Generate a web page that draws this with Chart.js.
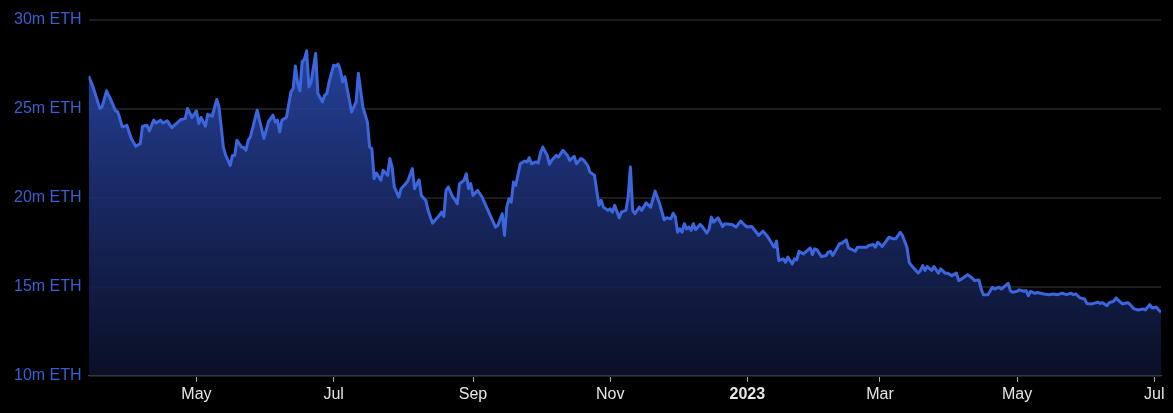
<!DOCTYPE html>
<html lang="en">
<head>
<meta charset="UTF-8">
<title>ETH supply</title>
<script src="https://cdn.jsdelivr.net/npm/chart.js"></script>
<style>
  html, body { margin: 0; padding: 0; background: #000; }
  #wrap { width: 1173px; height: 413px; }
</style>
</head>
<body>
<div id="wrap"><canvas id="supplyChart"></canvas></div>
<script>
// day 0 = 2022-03-14
const START_DATE = Date.UTC(2022, 2, 14);

// days since START_DATE
const days = [0,2,5,6,8,10,12,13,15,17,19,21,23,24,26,27,29,30,32,33,35,37,39,41,43,44,46,48,49,50,52,53,55,57,58,60,61,63,64,65,66,68,69,70,71,72,75,76,78,80,
  82,83,84,85,86,88,90,91,92,93,94,95,96,97,98,99,101,102,104,105,106,107,109,110,111,112,113,114,116,117,119,120,122,124,125,126,127,128,130,131,133,134,135,136,138,139,141,142,144,145,
  147,148,150,151,153,154,156,157,158,159,160,162,163,164,165,166,167,168,169,170,171,173,175,176,178,179,181,182,184,185,186,187,188,189,190,192,194,195,196,197,199,200,201,202,204,205,206,208,209,210,
  211,213,214,216,217,219,220,222,223,225,226,227,228,229,231,232,233,234,236,237,239,240,241,242,243,245,246,248,250,252,254,256,257,259,260,261,262,263,264,265,266,267,268,269,270,272,273,275,276,277,
  278,280,282,283,286,288,290,292,293,295,297,298,300,302,304,305,306,307,309,310,311,313,314,315,316,318,321,322,323,324,326,328,329,330,331,334,335,337,338,341,342,344,346,347,349,350,351,353,355,356,
  358,359,361,362,364,365,366,368,369,370,371,372,373,375,376,378,379,381,382,384,386,387,389,391,393,394,396,397,398,400,402,403,405,406,407,409,410,411,413,414,416,417,418,419,421,422,425,427,429,431,
  433,435,437,438,439,441,443,444,446,447,449,450,451,453,454,456,457,459,460,462,463,465,467,469,470,472,473,475,476,477];

// ETH supply, millions
const supplyM = [26.85,26.24,25.03,25.12,26.02,25.49,24.89,24.83,23.99,24.08,23.34,22.90,23.05,24.03,24.08,23.76,24.37,24.21,24.37,24.21,24.33,23.95,24.18,24.40,24.46,25.03,24.52,24.89,24.18,24.52,24.03,24.70,24.59,25.53,25.12,22.83,22.39,21.83,22.39,22.39,23.24,22.86,22.83,22.68,23.24,23.43,24.93,24.37,23.34,24.27,
  24.65,24.27,24.37,23.71,24.37,24.52,25.96,26.15,27.41,26.43,26.02,27.65,27.79,28.27,26.24,26.52,28.12,25.87,25.40,25.77,25.87,26.52,27.46,27.41,27.52,27.18,26.52,26.81,25.49,24.83,25.40,27.00,25.12,24.27,22.86,22.77,21.08,21.40,20.99,21.55,21.27,22.21,21.74,20.61,20.05,20.52,20.80,20.95,21.65,20.52,
  21.02,20.14,19.86,19.30,18.58,18.73,19.01,19.20,18.96,20.42,20.61,20.05,19.90,19.67,20.80,20.89,20.99,21.36,20.52,20.80,20.14,20.42,20.05,19.76,19.20,18.92,18.36,18.45,19.11,17.89,19.48,19.95,19.76,20.89,20.70,21.92,22.07,22.02,22.26,21.92,22.02,21.96,22.52,22.86,22.39,21.89,22.11,22.39,22.30,22.49,
  22.68,22.39,22.11,22.34,21.92,22.21,22.15,21.83,21.45,21.27,20.42,19.58,19.86,19.48,19.30,19.39,19.20,19.58,18.88,19.20,19.30,20.05,21.74,19.30,19.11,19.48,19.30,19.72,19.48,20.38,19.67,18.77,18.88,18.83,19.14,18.92,18.07,18.26,18.07,18.55,18.26,18.36,18.17,18.55,18.21,18.51,18.39,18.02,18.26,18.92,
  18.64,18.88,18.39,18.55,18.51,18.36,18.70,18.45,18.36,18.39,18.07,17.89,18.13,17.83,17.42,17.23,17.57,16.48,16.57,16.38,16.67,16.29,16.57,16.52,17.00,16.85,17.19,16.82,17.14,17.08,16.70,16.76,16.95,17.00,16.76,17.42,17.45,17.64,17.19,17.00,17.23,17.23,17.23,17.32,17.38,17.23,17.51,17.27,17.61,17.79,
  17.70,17.70,18.07,17.89,17.23,16.38,16.20,15.92,15.77,15.92,16.20,15.92,16.14,15.92,16.14,15.77,16.01,15.77,15.77,15.63,15.77,15.35,15.50,15.69,15.50,15.35,15.39,14.88,14.56,14.56,14.98,14.88,14.98,14.88,14.98,15.20,14.79,14.69,14.75,14.83,14.75,14.79,14.51,14.75,14.64,14.68,14.60,14.56,14.60,14.56,
  14.64,14.56,14.64,14.56,14.60,14.38,14.32,14.07,14.04,14.07,14.13,14.07,14.11,13.94,14.11,14.19,14.38,14.13,14.04,14.11,14.04,13.76,13.70,13.76,13.70,14.00,13.81,13.85,13.70,13.57];

// x axis ticks: [year, month(0-based), label]
const monthTicks = [[2022,4,'May'],[2022,6,'Jul'],[2022,8,'Sep'],[2022,10,'Nov'],[2023,0,'2023'],[2023,2,'Mar'],[2023,4,'May'],[2023,6,'Jul']];
const yTicks = [10, 15, 20, 25, 30];

const DAY = 86400000;
const tickDays = monthTicks.map(t => Math.round((Date.UTC(t[0], t[1], 1) - START_DATE) / DAY));
const tickNames = {};
monthTicks.forEach((t, i) => { tickNames[tickDays[i]] = t[2]; });

const points = days.map((d, i) => ({ x: d, y: supplyM[i] }));

function areaFill(context) {
    const chart = context.chart;
    const area = chart.chartArea;
    if (!area) return 'rgba(35,65,160,0.8)';
    const g = chart.ctx.createLinearGradient(0, area.top, 0, area.bottom);
    g.addColorStop(0, 'rgba(46,82,190,0.86)');
    g.addColorStop(0.45, 'rgba(30,50,122,0.86)');
    g.addColorStop(1, 'rgba(12,18,44,0.86)');
    return g;
}

const ctx = document.querySelector('#supplyChart');
const supplyChart = new Chart(ctx, {
    type: 'line',
    data: {
        datasets: [{
            label: 'ETH supply',
            data: points,
            borderColor: '#3b66de',
            borderWidth: 3,
            borderJoinStyle: 'round',
            backgroundColor: areaFill,
            fill: 'start',
            pointRadius: 0,
            tension: 0
        }]
    },
    options: {
        responsive: true,
        maintainAspectRatio: false,
        animation: false,
        layout: { padding: { top: 20, left: 7, right: 12, bottom: 6 } },
        plugins: { legend: { display: false }, tooltip: { enabled: false } },
        scales: {
            x: {
                type: 'linear',
                min: 0,
                max: days[days.length - 1],
                afterBuildTicks: axis => { axis.ticks = tickDays.map(v => ({ value: v })); },
                grid: { drawOnChartArea: false, drawTicks: true, tickLength: 6, color: '#b0b0b0' },
                border: { color: '#4a4a4a', width: 1 },
                ticks: {
                    color: '#e6e6e6',
                    padding: 3,
                    maxRotation: 0,
                    autoSkip: false,
                    font: c => ({
                        family: '"Liberation Sans", Arial, sans-serif',
                        size: 16,
                        weight: (c.tick && c.tick.label === '2023') ? 'bold' : 'normal'
                    }),
                    callback: v => tickNames[v] || ''
                }
            },
            y: {
                min: 10,
                max: 30,
                afterBuildTicks: axis => { axis.ticks = yTicks.map(v => ({ value: v })); },
                grid: { drawTicks: false, color: '#1d1d1d', lineWidth: 2 },
                border: { display: false },
                ticks: {
                    color: '#3b5fd0',
                    padding: 7,
                    font: { family: '"Liberation Sans", Arial, sans-serif', size: 16 },
                    callback: v => v + 'm ETH'
                }
            }
        }
    }
});
</script>
</body>
</html>
